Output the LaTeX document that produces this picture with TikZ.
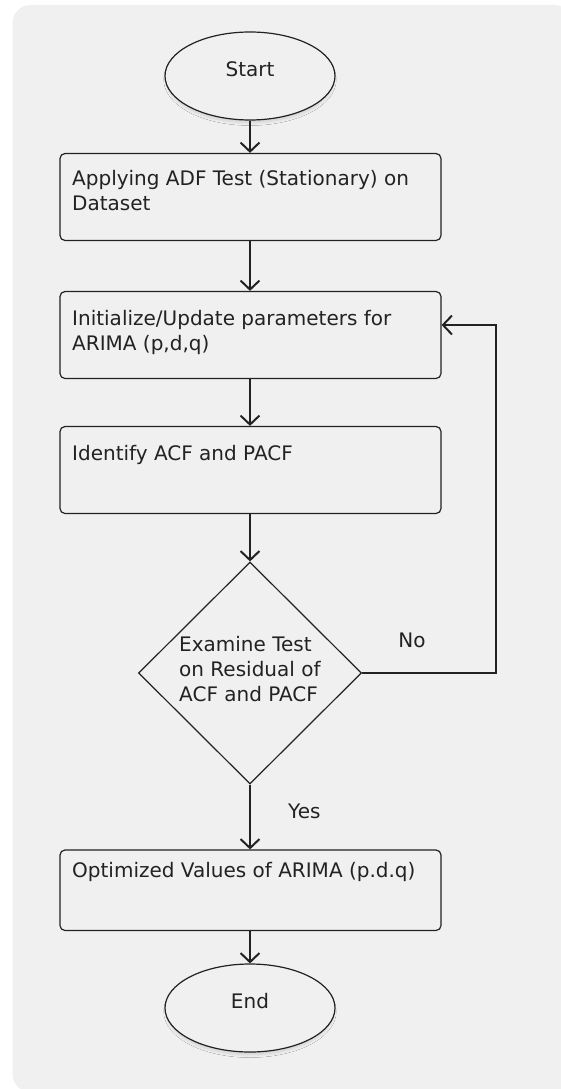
\documentclass[tikz,border=0pt]{standalone}
\usepackage{fontspec}
\setmainfont{DejaVu Sans}
\usetikzlibrary{shapes.geometric,arrows.meta,shadows.blur}
\definecolor{canvas}{HTML}{F0F0F0}
\definecolor{ink}{HTML}{222222}
\begin{document}
\begin{tikzpicture}[x=1pt,y=-1pt,
  font=\fontsize{20}{25}\selectfont,
  terminal/.style={ellipse, draw=ink, line width=1.2pt, fill=canvas,
    minimum width=170pt, minimum height=88pt, inner sep=0pt,
    blur shadow={shadow xshift=0pt, shadow yshift=-3.5pt, shadow scale=0.98,
      shadow blur radius=3pt, shadow blur steps=8, shadow opacity=14}},
  procbox/.style={rectangle, rounded corners=5pt, draw=ink, line width=1.2pt,
    fill=canvas, minimum width=381pt, inner sep=0pt},
  decision/.style={diamond, draw=ink, line width=1.2pt, fill=canvas,
    minimum width=223pt, minimum height=222pt, inner sep=0pt},
  boxtext/.style={anchor=north west, inner sep=0pt, align=left, text=ink},
  plain/.style={inner sep=0pt, text=ink},
  flow/.style={draw=ink, line width=2pt, -{Straight Barb[length=9pt,width=19pt]}},
]
% page and backdrop
\useasboundingbox (0,0) rectangle (561,1089);
\fill[white] (0,0) rectangle (561,1089);
\fill[canvas, rounded corners=18pt] (12.5,5) rectangle (572,1092);

% terminals
\node[terminal] (start) at (250,76) {};
\node[plain, anchor=base] (starttxt) at (250,76.7) {Start};
\node[terminal] (end) at (250,1008) {};
\node[plain, anchor=base] (endtxt) at (250,1008.3) {End};

% process steps
\node[procbox, minimum height=87pt] (adf) at (250.5,197) {};
\node[boxtext] (adftxt) at (72,169) {\rule{0pt}{16pt}Applying ADF Test (Stationary) on\\Dataset};

\node[procbox, minimum height=87pt] (init) at (250.5,335) {};
\node[boxtext] (inittxt) at (72,309) {\rule{0pt}{16pt}Initialize/Update parameters for\\ARIMA (p,d,q)};

\node[procbox, minimum height=87pt] (ident) at (250.5,470) {};
\node[boxtext] (identtxt) at (72,444) {\rule{0pt}{16pt}Identify ACF and PACF};

\node[decision] (dia) at (250,673) {};
\node[boxtext] (diatxt) at (179,635.7) {\rule{0pt}{16pt}Examine Test\\on Residual of\\ACF and PACF};

\node[procbox, minimum height=80.5pt] (opt) at (250.5,890.25) {};
\node[boxtext] (opttxt) at (72,861) {\rule{0pt}{16pt}Optimized Values of ARIMA (p.d.q)};

% main flow
\draw[flow] (start.south) -- (start.south |- adf.north);
\draw[flow] (start.south |- adf.south) -- (start.south |- init.north);
\draw[flow] (start.south |- init.south) -- (start.south |- ident.north);
\draw[flow] (start.south |- ident.south) -- (dia.north);
\draw[flow] (dia.south) -- (dia.south |- opt.north);
\draw[flow] (dia.south |- opt.south) -- (end.north);

% feedback loop
\coordinate (loop) at (496,325);
\draw[flow] (dia.east) -| (loop) -- (loop -| init.east);

% branch labels
\node[plain, anchor=base] (no) at (412,647) {No};
\node[plain, anchor=base west] (yes) at (288,818) {Yes};
\end{tikzpicture}
\end{document}
